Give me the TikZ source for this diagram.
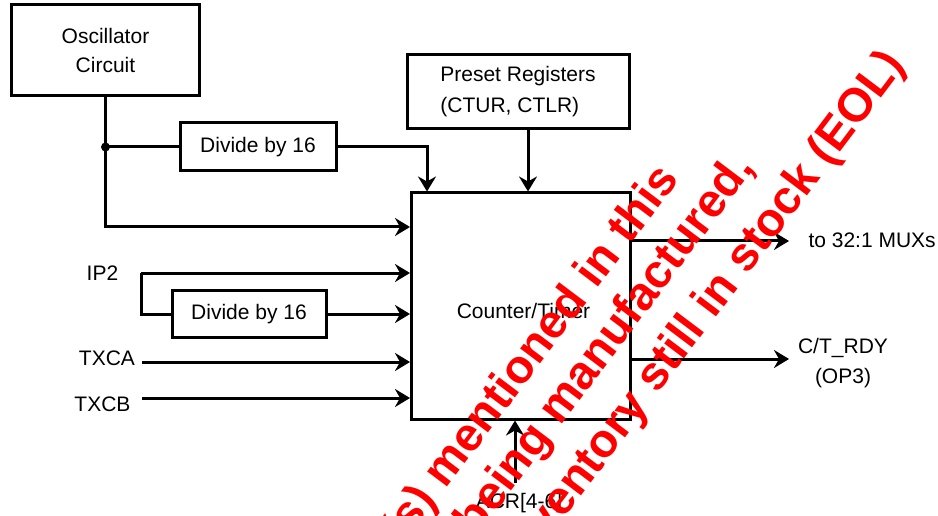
\documentclass[tikz,border=0pt]{standalone}
\usepackage{fontspec}
\setmainfont{Liberation Sans}
\usetikzlibrary{arrows.meta}
\begin{document}
\begin{tikzpicture}[x=1pt,y=-1pt,
  line width=3pt,
  box/.style={draw, line width=3pt, inner sep=0pt, font=\fontsize{21}{29}\selectfont},
  lbl/.style={inner sep=0pt, align=center, font=\fontsize{21}{29}\selectfont},
  arr/.style={-{Stealth[length=15pt,width=18pt,inset=5pt]}},
  wmark/.style={text=red, font=\fontsize{47}{50}\selectfont\bfseries, rotate=53, anchor=base east, inner sep=0pt}]
\useasboundingbox (0,0) rectangle (938,516);
% boxes
\node[box, align=center, minimum width=188pt, minimum height=91pt] (osc) at (105.5,50.5) {Oscillator\\Circuit};
\node[box, align=center, minimum width=156pt, minimum height=48pt] (div1) at (258,147) {Divide by 16};
\node[box, align=left, font=\fontsize{21}{31}\selectfont, minimum width=222pt, minimum height=73.5pt] (preset) at (518,91.5) {Preset Registers\\(CTUR, CTLR)};
\node[box, minimum width=218.5pt, minimum height=226pt] (main) at (520.75,306) {};
\node[lbl] (ct) at (523.5,311) {Counter/Timer};
\node[box, align=center, minimum width=154pt, minimum height=47pt] (div2) at (249,314) {Divide by 16};
% labels
\node[lbl] (lip2) at (102.5,273) {IP2};
\node[lbl] (ltxca) at (107,358) {TXCA};
\node[lbl] (ltxcb) at (102.5,404) {TXCB};
\node[lbl] (lacr) at (519,503.5) {ACR[4-6]};
\node[lbl, anchor=west] (lmux) at (807,240) {to 32:1 MUXs};
\node[lbl, font=\fontsize{21}{30}\selectfont] (lrdy) at (843,363) {C/T\_RDY\\(OP3)};
% helper coordinates
\coordinate (y227) at (0,227);
\coordinate (x427) at (427,0);
\coordinate (x528) at (528,0);
\coordinate (jn) at (105.5,147);
\coordinate (ip2s) at (141,273);
\coordinate (txca) at (142,362);
\coordinate (txcb) at (142,398);
\coordinate (acr) at (515,483);
\coordinate (o1) at (789,241);
\coordinate (o2) at (789,359);
% connectors
\draw[arr] (osc.south) -- (osc.south |- y227) -- (main.west |- y227);
\fill (jn) circle (4.5pt);
\draw (jn) -- (div1.west);
\draw[arr] (div1.east) -| (main.north -| x427);
\draw[arr] (preset.south -| x528) -- (main.north -| x528);
\draw[arr] (ip2s) -- (main.west |- ip2s);
\draw (ip2s) |- (div2.west);
\draw[arr] (div2.east) -- (main.west |- div2.east);
\draw[arr] (txca) -- (main.west |- txca);
\draw[arr] (txcb) -- (main.west |- txcb);
\draw[arr] (acr) -- (main.south -| acr);
\draw[arr] (main.east |- o1) -- (o1);
\draw[arr] (main.east |- o2) -- (o2);
% watermark
\begin{scope}
\clip (0,0) rectangle (938,516);
\node[wmark] (wm1) at (681,178) {Product(s) mentioned in this};
\node[wmark] (wm2) at (756,167) {being manufactured,};
\node[wmark] (wm3) at (907,64) {inventory still in stock (EOL)};
\end{scope}
\end{tikzpicture}
\end{document}
